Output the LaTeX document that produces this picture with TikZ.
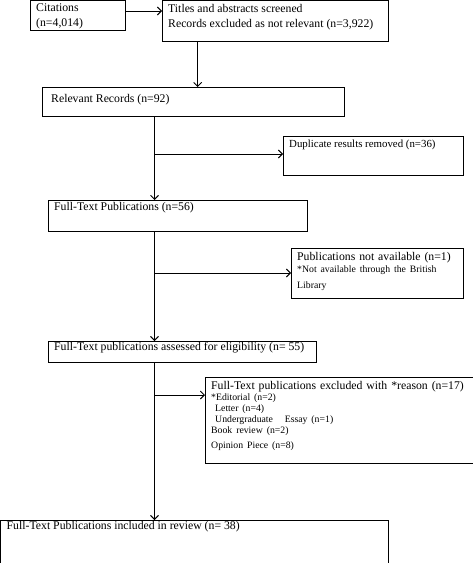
\documentclass[tikz,border=0pt]{standalone}
\usepackage{fontspec}
\setmainfont{Liberation Serif}
\usetikzlibrary{arrows.meta}
\tikzstyle{box}=[draw, rectangle, line width=0.7pt, inner sep=0pt, anchor=north west]
\tikzstyle{note}=[anchor=north west, align=left, inner xsep=6bp, inner ysep=2.5bp, font=\fontsize{11.8}{15}\selectfont]
\tikzstyle{edge}=[draw, line width=0.9pt, -{Straight Barb[length=4bp,width=8bp]}]
\newcommand{\smalltxt}{\fontsize{9.8}{11}\selectfont}

\begin{document}
\begin{tikzpicture}[x=1bp, y=-1bp]
		\useasboundingbox (0,0) rectangle (473,563);
		% First we draw the boxes
		\node[box, minimum width=95bp, minimum height=30bp,
			label={[note, yshift=-1bp]north west:Citations\\(n=4,014)}] (cit) at (30,0.5) {};
		\node[box, minimum width=226bp, minimum height=41bp,
			label={[note, yshift=-1bp]north west:Titles and abstracts screened\\Records excluded as not relevant (n=3,922)}] (tit) at (162,0.5) {};
		\node[box, minimum width=302bp, minimum height=29bp,
			label={[note, yshift=-5bp, xshift=3bp]north west:Relevant Records (n=92)}] (rel) at (42,87) {};
		\node[box, minimum width=180bp, minimum height=39bp,
			label={[note, font=\fontsize{10.9}{14}\selectfont, yshift=-1bp]north west:Duplicate results removed (n=36)}] (dup) at (283,136) {};
		\node[box, minimum width=259bp, minimum height=31bp,
			label={[note]north west:Full-Text Publications (n=56)}] (ft) at (48,200) {};
		\node[box, minimum width=172bp, minimum height=50bp,
			label={[note, text width=165bp, yshift=-2bp]north west:Publications not available (n=1)\\[1bp]
				\smalltxt *Not available through the British\\[1bp]Library}] (na) at (291,248) {};
		\node[box, minimum width=268bp, minimum height=21bp,
			label={[note, yshift=1bp]north west:Full-Text publications assessed for eligibility (n= 55)}] (elig) at (48,341) {};
		\node[box, minimum width=267.5bp, minimum height=86bp,
			label={[note, text width=262bp, yshift=-2bp]north west:Full-Text publications excluded with *reason (n=17)\\
				\smalltxt *Editorial (n=2)\\
				\hspace*{4bp}Letter (n=4)\\
				\hspace*{4bp}Undergraduate\ \ \ Essay (n=1)\\
				Book review (n=2)\\
				Opinion Piece (n=8)}] (excl) at (205,377) {};
		\node[box, minimum width=387.5bp, minimum height=42.5bp,
			label={[note, yshift=1bp]north west:Full-Text Publications included in review (n= 38)}] (incl) at (0.5,520) {};

		% Points on the main line
		\coordinate (c1) at (0,11);
		\coordinate (t1) at (197.7,0);
		\coordinate (j1) at (154.5,154);
		\coordinate (j2) at (154.5,273);
		\coordinate (j3) at (154.5,395);

		% Connect boxes with arrows
		\path[edge] (cit.east |- c1) -- (tit.west |- c1);
		\path[edge] (tit.south -| t1) -- (rel.north -| t1);
		\foreach \source/\dest in {rel/ft, ft/elig, elig/incl}
		\path[edge] (\source.south -| j1) -- (\dest.north -| j1);
		\foreach \point/\dest in {j1/dup, j2/na, j3/excl}
		\path[edge] (\point) -- (\dest.west |- \point);
\end{tikzpicture}
\end{document}
